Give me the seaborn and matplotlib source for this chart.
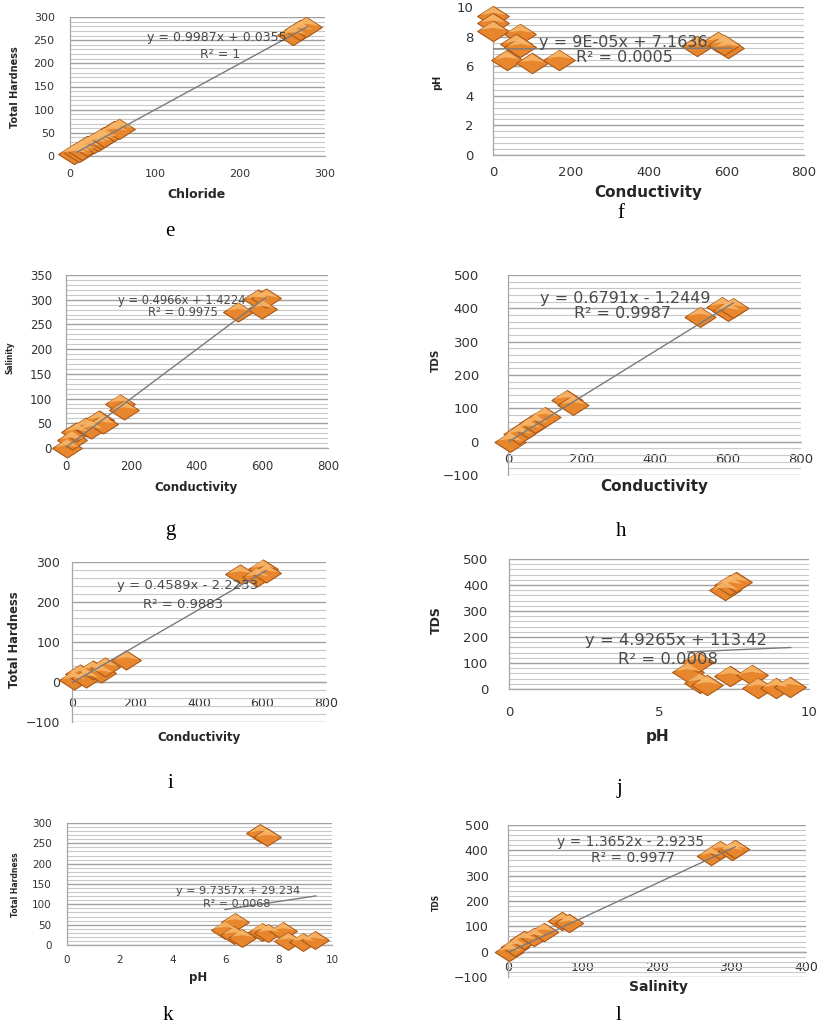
import numpy as np
import matplotlib
matplotlib.use("Agg")
import matplotlib.pyplot as plt
from matplotlib.path import Path
from matplotlib.ticker import MultipleLocator, AutoMinorLocator
import seaborn as sns

# ---------------------------------------------------------------
# data (one pair of lists per panel)
# ---------------------------------------------------------------
e_chloride = [5, 10, 14, 20, 28, 33, 36, 40, 52, 58, 262, 270, 278]
e_hardness = [5, 9, 14, 21, 28, 32, 37, 40, 53, 59, 261, 271, 279]

f_cond = [0, 0, 0, 70, 60, 70, 35, 100, 170, 525, 580, 605, 595]
f_ph = [9.4, 8.9, 8.4, 8.2, 7.5, 7.3, 6.4, 6.2, 6.45, 7.35, 7.65, 7.25, 7.45]

g_cond = [3, 18, 32, 60, 75, 100, 112, 165, 178, 526, 585, 598, 612]
g_salinity = [0, 16, 32, 42, 38, 56, 48, 90, 77, 276, 301, 282, 303]

h_cond = [5, 30, 55, 75, 100, 160, 178, 525, 585, 600, 615]
h_tds = [0, 22, 40, 55, 75, 125, 110, 375, 405, 392, 402]

i_cond = [5, 25, 45, 65, 90, 105, 170, 530, 582, 600, 612]
i_hardness = [5, 20, 10, 30, 22, 38, 55, 270, 262, 283, 272]

j_ph = [5.95, 6.3, 6.35, 6.6, 7.2, 7.35, 7.55, 7.35, 8.1, 8.3, 8.9, 9.35]
j_tds = [65, 105, 25, 15, 380, 400, 410, 50, 55, 5, 5, 8]

k_ph = [5.95, 6.35, 6.3, 6.6, 7.3, 7.55, 7.35, 7.6, 8.15, 8.35, 8.9, 9.35]
k_hardness = [38, 57, 25, 18, 275, 265, 33, 30, 35, 10, 8, 12]

l_salinity = [2, 10, 22, 35, 48, 73, 82, 272, 285, 300, 305]
l_tds = [0, 20, 45, 58, 78, 120, 112, 378, 402, 398, 405]

# Excel trendline coefficients printed on each panel
slopes = [0.9987, 9e-05, 0.4966, 0.6791, 0.4589, 4.9265, 9.7357, 1.3652]
intercepts = [0.0355, 7.1636, 1.4224, -1.2449, -2.2233, 113.42, 29.234, -2.9235]
equations = ["y = 0.9987x + 0.0355", "y = 9E-05x + 7.1636", "y = 0.4966x + 1.4224",
             "y = 0.6791x - 1.2449", "y = 0.4589x - 2.2233", "y = 4.9265x + 113.42",
             "y = 9.7357x + 29.234", "y = 1.3652x - 2.9235"]
r_squared = ["R² = 1", "R² = 0.0005", "R² = 0.9975", "R² = 0.9987",
             "R² = 0.9883", "R² = 0.0008", "R² = 0.0068", "R² = 0.9977"]
letters = ["e", "f", "g", "h", "i", "j", "k", "l"]

series = [(e_chloride, e_hardness), (f_cond, f_ph), (g_cond, g_salinity), (h_cond, h_tds),
          (i_cond, i_hardness), (j_ph, j_tds), (k_ph, k_hardness), (l_salinity, l_tds)]
x_names = ["Chloride", "Conductivity", "Conductivity", "Conductivity",
           "Conductivity", "pH", "pH", "Salinity"]
y_names = ["Total Hardness", "pH", "Salinity", "TDS",
           "Total Hardness", "TDS", "Total Hardness", "TDS"]

# ---------------------------------------------------------------
# layout (pixel positions in the 823x1029 picture)
# ---------------------------------------------------------------
W, H = 823, 1029
layout = [
    # box(x0,y0,x1,y1), limits, tick steps, x axis at 0?, label / text centres,
    # font sizes (tick, eq, xlabel, ylabel), tick pads (x, y), marker area, trendline x range
    dict(box=(70, 17, 325, 156), xlim=(0, 300), ylim=(0, 300), xs=100, ys=50, zero=False,
         xl=(197, 195), yl=(15, 87), eq=(217, 38), r2=(220, 54), let=(170, 231),
         fs=(8, 9, 9, 7), pad=(5.5, 7), s=520, fit=(8, 280)),
    dict(box=(493, 7, 804, 155), xlim=(0, 800), ylim=(0, 10), xs=200, ys=2, zero=False,
         xl=(648, 193), yl=(437, 82), eq=(623, 43), r2=(624, 57), let=(621, 213),
         fs=(9.5, 11.5, 11, 7), pad=(4, 10), s=520, fit=(0, 615)),
    dict(box=(66, 275, 328, 448), xlim=(0, 800), ylim=(0, 350), xs=200, ys=50, zero=False,
         xl=(196, 488), yl=(10, 358), eq=(182, 300), r2=(183, 313), let=(170, 531),
         fs=(8.5, 8.3, 8.5, 5.5), pad=(5, 6), s=460, fit=(0, 612)),
    dict(box=(508, 275, 801, 475), xlim=(0, 800), ylim=(-100, 500), xs=200, ys=100, zero=True,
         xl=(654, 487), yl=(436, 360), eq=(625, 298), r2=(623, 314), let=(621, 532),
         fs=(9.5, 11.5, 11, 7.5), pad=(4, 17), s=500, fit=(0, 615)),
    dict(box=(72, 562, 326, 722), xlim=(0, 800), ylim=(-100, 300), xs=200, ys=100, zero=True,
         xl=(199, 737), yl=(15, 640), eq=(188, 586), r2=(183, 604), let=(170, 783),
         fs=(9, 9.5, 8.5, 8.3), pad=(7, 4.5), s=460, fit=(0, 612)),
    dict(box=(509, 559, 809, 689), xlim=(0, 10), ylim=(0, 500), xs=5, ys=100, zero=False,
         xl=(658, 737), yl=(436, 620), eq=(676, 640), r2=(668, 659), let=(619, 788),
         fs=(9.5, 11.8, 11, 9), pad=(8.5, 11), s=520, fit=(5.95, 9.4)),
    dict(box=(67, 823, 332, 945), xlim=(0, 10), ylim=(0, 300), xs=2, ys=50, zero=False,
         xl=(198, 977), yl=(15, 885), eq=(238, 891), r2=(237, 904), let=(168, 1015),
         fs=(7.5, 8, 8.5, 5.5), pad=(3, 7), s=400, fit=(5.95, 9.4)),
    dict(box=(508, 825, 806, 977), xlim=(0, 400), ylim=(-100, 500), xs=100, ys=100, zero=True,
         xl=(658, 987), yl=(436, 902), eq=(631, 842), r2=(633, 858), let=(618, 1016),
         fs=(9, 10, 10, 5.5), pad=(3, 10), s=420, fit=(0, 305)),
]

sns.set_theme(style="white")
plt.rcParams['font.family'] = ['DejaVu Sans']

fig = plt.figure(figsize=(W / 100, H / 100), dpi=100)

# wide flat diamond, plus a lighter upper facet for the Excel 3-D look
diamond = Path([(-1, 0), (0, 0.64), (1, 0), (0, -0.64), (-1, 0)], closed=True)
facet = Path([(-0.8, 0.06), (0, 0.58), (0.8, 0.06), (0, 0.18), (-0.8, 0.06)], closed=True)

for k, (xs, ys) in enumerate(series):
    L = layout[k]
    x0, y0, x1, y1 = L["box"]
    ax = fig.add_axes([x0 / W, 1 - y1 / H, (x1 - x0) / W, (y1 - y0) / H])
    tick_fs, eq_fs, xl_fs, yl_fs = L["fs"]

    sns.scatterplot(x=xs, y=ys, ax=ax, marker=diamond, s=L["s"], color="#E7862C",
                    edgecolor="#A9581A", linewidth=0.8, zorder=3, clip_on=False)
    sns.scatterplot(x=xs, y=ys, ax=ax, marker=facet, s=L["s"] * 0.64, color="#F8B86C",
                    edgecolor="none", linewidth=0, alpha=0.85, zorder=3.5, clip_on=False)

    fx = np.array(L["fit"])
    sns.lineplot(x=fx, y=slopes[k] * fx + intercepts[k], ax=ax, color="#7a7a7a",
                 linewidth=1.0, zorder=4)

    ax.set_xlim(*L["xlim"])
    ax.set_ylim(*L["ylim"])
    ax.xaxis.set_major_locator(MultipleLocator(L["xs"]))
    ax.yaxis.set_major_locator(MultipleLocator(L["ys"]))
    ax.yaxis.set_minor_locator(AutoMinorLocator(5))

    # Excel-style horizontal gridlines: darker majors, light minors
    ax.set_axisbelow(True)
    ax.grid(False)
    ax.yaxis.grid(True, which="minor", color="#c8c8c8", linewidth=0.8)
    ax.yaxis.grid(True, which="major", color="#a0a0a0", linewidth=1.0)

    for side in ["top", "right"]:
        ax.spines[side].set_visible(False)
    for side in ["left", "bottom"]:
        ax.spines[side].set_color("#a6a6a6")
        ax.spines[side].set_linewidth(0.9)
    if L["zero"]:
        ax.spines["bottom"].set_position(("data", 0))

    ax.tick_params(axis="both", which="major", direction="out", length=4, width=0.8,
                   color="#a6a6a6", labelsize=tick_fs, labelcolor="#333333")
    ax.tick_params(axis="x", which="major", pad=L["pad"][0])
    ax.tick_params(axis="y", which="major", pad=L["pad"][1])
    ax.tick_params(axis="both", which="minor", length=0)

    # axis titles, centred where they sit in the picture
    ax.set_xlabel(x_names[k], fontsize=xl_fs, fontweight="bold", color="#262626", va="center")
    ax.set_ylabel(y_names[k], fontsize=yl_fs, fontweight="bold", color="#262626", va="center")
    ax.xaxis.set_label_coords((L["xl"][0] - x0) / (x1 - x0), (y1 - L["xl"][1]) / (y1 - y0))
    ax.yaxis.set_label_coords((L["yl"][0] - x0) / (x1 - x0), (y1 - L["yl"][1]) / (y1 - y0))

    fig.text(L["eq"][0] / W, 1 - L["eq"][1] / H, equations[k], ha="center", va="center",
             fontsize=eq_fs, color="#4a4a4a", zorder=10)
    fig.text(L["r2"][0] / W, 1 - L["r2"][1] / H, r_squared[k], ha="center", va="center",
             fontsize=eq_fs, color="#4a4a4a", zorder=10)

    fig.text(L["let"][0] / W, 1 - L["let"][1] / H, letters[k], ha="center", va="center",
             fontsize=15, family=["Liberation Serif", "DejaVu Serif"], color="black")

fig.savefig("out.png", dpi=100, facecolor="white")
